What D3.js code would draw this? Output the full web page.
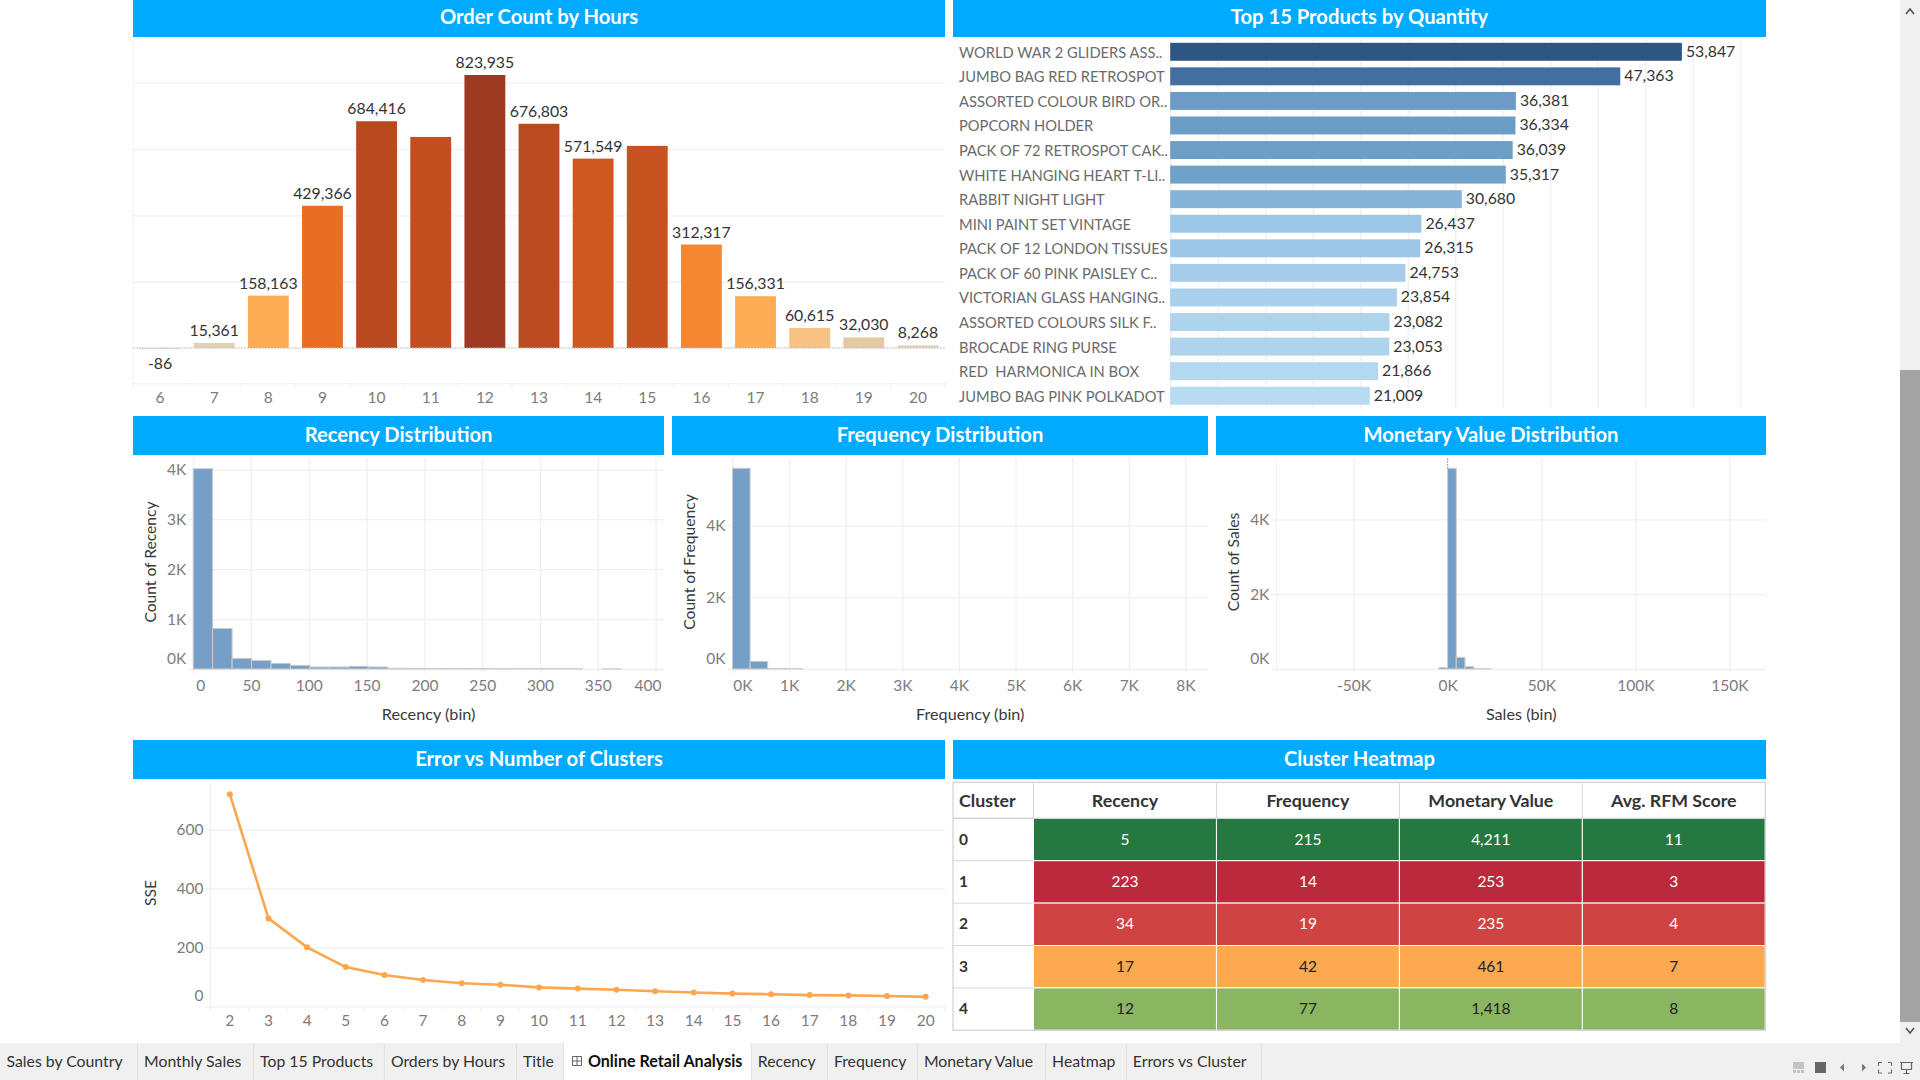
<!DOCTYPE html>
<html>
<head>
    <meta charset="utf-8">
    <title>Online Retail Analysis</title>
    <script src="https://d3js.org/d3.v7.min.js"></script>
    <style>
        body { margin: 0; background: #fff; overflow: hidden; }
        svg { display: block; font-family: Lato, sans-serif; }
        .head { fill: #00aaff; }
        .head-text { fill: #fff; font-size: 20.2px; font-weight: 700; text-anchor: middle; }
        .grid line, .grid path { stroke: #f0f0f0; stroke-width: 1.3px; }
        .grid path { display: none; }
        .axis text { fill: #7c7c7c; font-size: 15.5px; font-family: Lato, sans-serif; }
        .axis path, .axis line { stroke: #eeeeee; }
        .value { fill: #333; font-size: 15.8px; }
        .product { fill: #6b6b6b; font-size: 14.7px; white-space: pre; }
        .axis-title { fill: #3a3a3a; font-size: 16.2px; text-anchor: middle; }
        .axis-title.side { font-size: 15.6px; }
        .hist-bar { fill: #759fc6; stroke: #cccccc; stroke-width: 1px; }
        .cell-text { font-size: 15.5px; text-anchor: middle; }
        .table-head { fill: #333; font-size: 17.8px; font-weight: 700; }
        .row-head { fill: #333; font-size: 15.5px; font-weight: 700; }
        .tab { fill: #333; font-size: 15.8px; }
        .tab.active { fill: #111; font-size: 16.1px; font-weight: 700; }
    </style>
</head>
<body>
    <svg id="page" width="1920" height="1080"></svg>
    <script>
        let hours = [6, 7, 8, 9, 10, 11, 12, 13, 14, 15, 16, 17, 18, 19, 20];
        let orderCounts = [-86, 15361, 158163, 429366, 684416, 637000, 823935, 676803, 571549, 610000, 312317, 156331, 60615, 32030, 8268];
        let hiddenOrderLabels = [11, 15]; // the dashboard drops these two labels

        let products = ['WORLD WAR 2 GLIDERS ASS..', 'JUMBO BAG RED RETROSPOT', 'ASSORTED COLOUR BIRD OR..', 'POPCORN HOLDER',
            'PACK OF 72 RETROSPOT CAK..', 'WHITE HANGING HEART T-LI..', 'RABBIT NIGHT LIGHT', 'MINI PAINT SET VINTAGE',
            'PACK OF 12 LONDON TISSUES', 'PACK OF 60 PINK PAISLEY C..', 'VICTORIAN GLASS HANGING..', 'ASSORTED COLOURS SILK F..',
            'BROCADE RING PURSE', 'RED  HARMONICA IN BOX', 'JUMBO BAG PINK POLKADOT'];
        let quantities = [53847, 47363, 36381, 36334, 36039, 35317, 30680, 26437, 26315, 24753, 23854, 23082, 23053, 21866, 21009];

        let recencyBinSize = 16.83;
        let recencyCounts = [4013, 813, 213, 173, 113, 73, 40, 40, 53, 40, 15, 12, 10, 8, 8, 6, 6, 5, 5, 4, 0, 3];
        let recencyTicks = [0, 50, 100, 150, 200, 250, 300, 350, 400];
        let recencyYTicks = [0, 1000, 2000, 3000, 4000];

        let frequencyBinSize = 311;
        let frequencyCounts = [5587, 213, 12, 6];
        let frequencyTicks = [0, 1000, 2000, 3000, 4000, 5000, 6000, 7000, 8000];
        let frequencyYTicks = [0, 2000, 4000];

        let salesBinSize = 4630;
        let salesBinStart = -4630;
        let salesCounts = [40, 5363, 312, 62, 10, 8];
        let salesTicks = [-50000, 0, 50000, 100000, 150000];
        let salesYTicks = [0, 2000, 4000];

        let clusterCounts = [2, 3, 4, 5, 6, 7, 8, 9, 10, 11, 12, 13, 14, 15, 16, 17, 18, 19, 20];
        let sse = [719, 298, 200, 133, 106, 89, 78, 73, 64, 60, 56, 51, 47, 43, 41, 38, 37, 35, 32];
        let sseTicks = [0, 200, 400, 600];

        let clusters = ['0', '1', '2', '3', '4'];
        let heatColumns = ['Recency', 'Frequency', 'Monetary Value', 'Avg. RFM Score'];
        let recencyRow = [5, 223, 34, 17, 12];
        let frequencyRow = [215, 14, 19, 42, 77];
        let monetaryRow = ['4,211', '253', '235', '461', '1,418'];
        let scoreRow = [11, 3, 4, 7, 8];

        let tabNames = ['Sales by Country', 'Monthly Sales', 'Top 15 Products', 'Orders by Hours', 'Title', 'Online Retail Analysis',
            'Recency', 'Frequency', 'Monetary Value', 'Heatmap', 'Errors vs Cluster'];

        let svg = d3.select('#page');
        // plain hyphen for negatives, like the dashboard
        let fmt = function (d) { return d3.format(',')(d).replace('\u2212', '-'); };
        let kFmt = function (d) { return (d / 1000 + 'K').replace('\u2212', '-'); };

        function header(x0, x1, y0, y1, title, dy) {
            svg.append('rect').attr('class', 'head')
                .attr('x', x0).attr('y', y0).attr('width', x1 - x0).attr('height', y1 - y0);
            svg.append('text').attr('class', 'head-text')
                .attr('x', (x0 + x1) / 2).attr('y', (y0 + y1) / 2 + dy).text(title);
        }

        header(133, 945, 0, 37, 'Order Count by Hours', 5);
        header(953, 1766, 0, 37, 'Top 15 Products by Quantity', 5);
        header(133, 664, 416, 455, 'Recency Distribution', 6);
        header(672, 1208, 416, 455, 'Frequency Distribution', 6);
        header(1216, 1766, 416, 455, 'Monetary Value Distribution', 6);
        header(133, 945, 740, 779, 'Error vs Number of Clusters', 6);
        header(953, 1766, 740, 779, 'Cluster Heatmap', 6);

        // ---- order count by hours
        let ox = d3.scaleBand().domain(hours).range([133, 945]).paddingInner(0.245).paddingOuter(0.1225);
        let oy = d3.scaleLinear().domain([-106500, 823935]).range([383.3, 75]);
        let oColor = d3.scaleLinear()
            .domain([-86, 8268, 32030, 60615, 158163, 312317, 429366, 571549, 684416, 823935])
            .range(['#dddddd', '#e3d4bc', '#e5c9a3', '#f7c384', '#fdae53', '#f58632', '#e86e24', '#cf5720', '#b84a20', '#9e3a21']);

        svg.append('g').attr('class', 'grid')
            .attr('transform', 'translate(133,0)')
            .call(d3.axisLeft(oy).tickValues([200000, 400000, 600000, 800000]).tickSize(-812).tickFormat(''));
        svg.append('line').attr('x1', 133).attr('x2', 133).attr('y1', 40).attr('y2', 383).attr('stroke', '#f3f3f3');

        svg.selectAll('.obar').data(hours).enter().append('rect')
            .attr('class', 'obar')
            .attr('x', function (d) { return ox(d); })
            .attr('width', ox.bandwidth())
            .attr('y', function (d, i) { return Math.min(oy(orderCounts[i]), oy(0)); })
            .attr('height', function (d, i) { return Math.max(Math.abs(oy(orderCounts[i]) - oy(0)), 1); })
            .attr('fill', function (d, i) { return oColor(orderCounts[i]); });

        svg.append('line').attr('x1', 133).attr('x2', 945).attr('y1', oy(0)).attr('y2', oy(0))
            .attr('stroke', '#bdbdbd').attr('stroke-dasharray', '2,1');

        svg.selectAll('.ovalue').data(hours.filter(function (h) { return hiddenOrderLabels.indexOf(h) < 0; })).enter().append('text')
            .attr('class', 'value')
            .attr('text-anchor', 'middle')
            .attr('x', function (d) { return ox(d) + ox.bandwidth() / 2; })
            .attr('y', function (d) {
                let v = orderCounts[hours.indexOf(d)];
                return v < 0 ? oy(0) + 21 : oy(v) - 7;
            })
            .text(function (d) { return fmt(orderCounts[hours.indexOf(d)]); });

        // band axis: text in the band centres, marks on the band edges
        svg.append('g').attr('class', 'axis')
            .attr('transform', 'translate(0,' + oy.range()[0] + ')')
            .call(d3.axisBottom(ox).tickSize(0).tickPadding(9));
        svg.append('g').selectAll('line').data(d3.range(hours.length + 1)).enter().append('line')
            .attr('x1', function (i) { return 133 + i * ox.step(); })
            .attr('x2', function (i) { return 133 + i * ox.step(); })
            .attr('y1', oy.range()[0]).attr('y2', oy.range()[0] + 4)
            .attr('stroke', '#eeeeee');

        // ---- top 15 products
        let px = d3.scaleLinear().domain([0, 62700]).range([1170.2, 1766]);
        let py = d3.scaleBand().domain(products).range([39.5, 408]).paddingInner(0.27).paddingOuter(0.135);
        let pColor = d3.scaleLinear()
            .domain([21009, 23053, 26315, 30680, 36000, 47363, 53847])
            .range(['#b7dcf1', '#aed3ed', '#9cc7e6', '#86b4d9', '#6d9ec6', '#426f9f', '#2c5782']);

        svg.append('g').attr('class', 'grid')
            .attr('transform', 'translate(0,408)')
            .call(d3.axisBottom(px).tickValues(d3.range(0, 60001, 5000)).tickSize(-368).tickFormat(''));

        svg.selectAll('.pbar').data(products).enter().append('rect')
            .attr('x', px(0))
            .attr('y', function (d) { return py(d); })
            .attr('height', py.bandwidth())
            .attr('width', function (d, i) { return px(quantities[i]) - px(0); })
            .attr('fill', function (d, i) { return pColor(quantities[i]); });
        svg.selectAll('.product').data(products).enter().append('text')
            .attr('class', 'product')
            .attr('x', 959)
            .attr('y', function (d) { return py(d) + py.bandwidth() / 2 + 6; })
            .text(function (d) { return d; });
        svg.selectAll('.pvalue').data(products).enter().append('text')
            .attr('class', 'value')
            .attr('x', function (d, i) { return px(quantities[i]) + 4; })
            .attr('y', function (d) { return py(d) + py.bandwidth() / 2 + 5; })
            .text(function (d, i) { return fmt(quantities[i]); });

        // ---- histograms
        function histogram(o) {
            let x = d3.scaleLinear().domain(o.xDomain).range([o.left, o.right]);
            let y = d3.scaleLinear().domain([0, o.yMax]).range([669, o.yTop]);

            svg.append('g').attr('class', 'grid')
                .attr('transform', 'translate(' + o.left + ',0)')
                .call(d3.axisLeft(y).tickValues(o.yTicks).tickSize(-(o.right - o.left)).tickFormat(''))
                .selectAll('line').attr('x1', -5);
            svg.append('g').attr('class', 'grid')
                .attr('transform', 'translate(0,669)')
                .call(d3.axisBottom(x).tickValues(o.xTicks).tickSize(-211).tickFormat(''))
                .selectAll('line').attr('y1', 4);
            svg.append('line').attr('x1', o.left).attr('x2', o.left).attr('y1', 458).attr('y2', 673).attr('stroke', '#f0f0f0');

            // bins go by index, a bin with no count draws nothing
            svg.append('g').selectAll('rect').data(d3.range(o.counts.length).filter(function (i) { return o.counts[i] > 0; }))
                .enter().append('rect')
                .attr('class', 'hist-bar')
                .attr('x', function (i) { return x(o.start + i * o.bin); })
                .attr('width', x(o.bin) - x(0))
                .attr('y', function (i) { return y(o.counts[i]); })
                .attr('height', function (i) { return y(0) - y(o.counts[i]); });

            let xa = svg.append('g').attr('class', 'axis')
                .attr('transform', 'translate(0,669)')
                .call(d3.axisBottom(x).tickValues(o.xTicks).tickSize(0).tickPadding(11).tickFormat(o.xFormat));
            xa.select('path').remove();
            xa.selectAll('text').attr('dx', function (d) { return o.xShift && o.xShift[d] ? o.xShift[d] : 0; });

            let ya = svg.append('g').attr('class', 'axis')
                .attr('transform', 'translate(' + o.left + ',0)')
                .call(d3.axisLeft(y).tickValues(o.yTicks).tickSize(0).tickPadding(7).tickFormat(kFmt));
            ya.select('path').remove();
            ya.selectAll('text').filter(function (d) { return d === 0; }).attr('dy', '-0.35em');

            svg.append('text').attr('class', 'axis-title')
                .attr('x', (o.left + o.right) / 2).attr('y', 720).text(o.xTitle);
            svg.append('text').attr('class', 'axis-title side')
                .attr('transform', 'translate(' + o.titleX + ',562) rotate(-90)').text(o.yTitle);
            return x;
        }

        histogram({
            left: 193.2, right: 664, xDomain: [0, 407.3], start: 0, bin: recencyBinSize, counts: recencyCounts,
            yMax: 4000, yTop: 469.3, xTicks: recencyTicks, yTicks: recencyYTicks, xFormat: d3.format('d'),
            xShift: { 0: 7, 400: -8 }, xTitle: 'Recency (bin)', yTitle: 'Count of Recency', titleX: 156
        });
        histogram({
            left: 732.5, right: 1208, xDomain: [0, 8400], start: 0, bin: frequencyBinSize, counts: frequencyCounts,
            yMax: 4000, yTop: 525.3, xTicks: frequencyTicks, yTicks: frequencyYTicks, xFormat: kFmt,
            xShift: { 0: 10 }, xTitle: 'Frequency (bin)', yTitle: 'Count of Frequency', titleX: 695
        });
        let sx = histogram({
            left: 1276.4, right: 1766, xDomain: [-91100, 169500], start: salesBinStart, bin: salesBinSize, counts: salesCounts,
            yMax: 4000, yTop: 519.3, xTicks: salesTicks, yTicks: salesYTicks, xFormat: kFmt,
            xTitle: 'Sales (bin)', yTitle: 'Count of Sales', titleX: 1239
        });
        svg.append('line').attr('x1', sx(0)).attr('x2', sx(0)).attr('y1', 458).attr('y2', 469)
            .attr('stroke', '#aaaaaa').attr('stroke-dasharray', '2,1');

        // ---- error vs clusters
        let ex = d3.scaleBand().domain(clusterCounts).range([210.5, 945]);
        let ey = d3.scaleLinear().domain([0, 600]).range([1006.3, 829.3]);
        let ecx = function (d) { return ex(d) + ex.bandwidth() / 2; };

        svg.append('g').attr('class', 'grid')
            .attr('transform', 'translate(210.5,0)')
            .call(d3.axisLeft(ey).tickValues(sseTicks).tickSize(-734.5).tickFormat(''))
            .selectAll('line').attr('x1', -5);
        svg.append('line').attr('x1', 210.5).attr('x2', 210.5).attr('y1', 782).attr('y2', 1010).attr('stroke', '#f0f0f0');
        svg.append('g').selectAll('line').data(d3.range(clusterCounts.length + 1)).enter().append('line')
            .attr('x1', function (i) { return 210.5 + i * ex.step(); })
            .attr('x2', function (i) { return 210.5 + i * ex.step(); })
            .attr('y1', 1006.3).attr('y2', 1010.3).attr('stroke', '#eeeeee');

        let eLine = d3.line()
            .x(function (d) { return ecx(d); })
            .y(function (d, i) { return ey(sse[i]); });
        svg.append('path').datum(clusterCounts)
            .attr('d', eLine).attr('fill', 'none').attr('stroke', '#fca750').attr('stroke-width', 2.6);
        svg.selectAll('.ept').data(clusterCounts).enter().append('circle')
            .attr('cx', function (d) { return ecx(d); })
            .attr('cy', function (d, i) { return ey(sse[i]); })
            .attr('r', 3).attr('fill', '#fca750');

        let exa = svg.append('g').attr('class', 'axis')
            .attr('transform', 'translate(0,1006.3)')
            .call(d3.axisBottom(ex).tickSize(0).tickPadding(9));
        exa.select('path').remove();
        let eya = svg.append('g').attr('class', 'axis')
            .attr('transform', 'translate(210.5,0)')
            .call(d3.axisLeft(ey).tickValues(sseTicks).tickSize(0).tickPadding(7));
        eya.select('path').remove();
        eya.selectAll('text').filter(function (d) { return d === 0; }).attr('dy', '-0.35em');
        svg.append('text').attr('class', 'axis-title side').attr('transform', 'translate(156,893) rotate(-90)').text('SSE');

        // ---- heatmap table
        let hx = d3.scaleBand().domain(heatColumns).range([1033.5, 1765.3]);
        let hy = d3.scaleBand().domain(clusters).range([818.3, 1030.3]);
        let hColor = d3.scaleOrdinal().domain(clusters).range(['#247840', '#bb2a3c', '#cf4343', '#fca950', '#8ab661']);
        let hText = d3.scaleOrdinal().domain(clusters).range(['#ffffff', '#ffffff', '#ffffff', '#222222', '#222222']);
        let heatRows = [recencyRow, frequencyRow, monetaryRow, scoreRow];

        heatColumns.forEach(function (col, c) {
            svg.append('g').selectAll('rect').data(clusters).enter().append('rect')
                .attr('x', hx(col)).attr('width', hx.bandwidth())
                .attr('y', function (d) { return hy(d); }).attr('height', hy.bandwidth())
                .attr('fill', function (d) { return hColor(d); })
                .attr('stroke', '#ffffff').attr('stroke-width', 1);
            svg.append('g').selectAll('text').data(clusters).enter().append('text')
                .attr('class', 'cell-text')
                .attr('x', hx(col) + hx.bandwidth() / 2)
                .attr('y', function (d) { return hy(d) + hy.bandwidth() / 2 + 5; })
                .attr('fill', function (d) { return hText(d); })
                .text(function (d, i) { return heatRows[c][i]; });
            svg.append('text').attr('class', 'table-head').attr('text-anchor', 'middle')
                .attr('x', hx(col) + hx.bandwidth() / 2).attr('y', 807).text(col);
            svg.append('line').attr('x1', hx(col)).attr('x2', hx(col)).attr('y1', 782.3).attr('y2', 818.3).attr('stroke', '#d8d8d8');
        });
        svg.append('text').attr('class', 'table-head').attr('x', 959).attr('y', 807).text('Cluster');
        svg.append('g').selectAll('text').data(clusters).enter().append('text')
            .attr('class', 'row-head')
            .attr('x', 959)
            .attr('y', function (d) { return hy(d) + hy.bandwidth() / 2 + 5; })
            .text(function (d) { return d; });
        svg.append('g').selectAll('line').data(clusters).enter().append('line')
            .attr('x1', 953).attr('x2', 1033.5)
            .attr('y1', function (d) { return hy(d); }).attr('y2', function (d) { return hy(d); })
            .attr('stroke', '#d8d8d8');
        svg.append('rect').attr('x', 953).attr('y', 782.3).attr('width', 812.3).attr('height', 248)
            .attr('fill', 'none').attr('stroke', '#d4d4d4').attr('stroke-width', 1.3);
        svg.append('line').attr('x1', 953).attr('x2', 1765.3).attr('y1', 818.3).attr('y2', 818.3).attr('stroke', '#d4d4d4').attr('stroke-width', 1.3);

        // ---- scrollbar
        svg.append('rect').attr('x', 1900).attr('y', 0).attr('width', 20).attr('height', 1043).attr('fill', '#f0f0f0');
        svg.append('rect').attr('x', 1900).attr('y', 370).attr('width', 20).attr('height', 652).attr('fill', '#a3a3a3');
        svg.append('path').attr('d', 'M1906 14 L1910 9 L1914 14').attr('fill', 'none').attr('stroke', '#505050').attr('stroke-width', 1.6);
        svg.append('path').attr('d', 'M1906 1028 L1910 1033 L1914 1028').attr('fill', 'none').attr('stroke', '#505050').attr('stroke-width', 1.6);

        // ---- tab bar
        let tabEdges = [0, 137.5, 253.6, 384.4, 516.5, 563.4, 751.3, 827.4, 917.4, 1045.6, 1126.3, 1261.4];
        let activeTab = 5;
        svg.append('rect').attr('x', 0).attr('y', 1043).attr('width', 1920).attr('height', 37).attr('fill', '#f0f0f0');
        svg.append('rect').attr('x', tabEdges[activeTab]).attr('y', 1043)
            .attr('width', tabEdges[activeTab + 1] - tabEdges[activeTab]).attr('height', 37).attr('fill', '#fff');
        svg.append('g').selectAll('line').data(tabEdges.slice(1)).enter().append('line')
            .attr('x1', function (d) { return d; }).attr('x2', function (d) { return d; })
            .attr('y1', 1043).attr('y2', 1080).attr('stroke', '#e0e0e0');
        svg.append('g').selectAll('text').data(tabNames).enter().append('text')
            .attr('class', function (d, i) { return i === activeTab ? 'tab active' : 'tab'; })
            .attr('x', function (d, i) { return i === activeTab ? tabEdges[i] + 24.5 : tabEdges[i] + 6.5; })
            .attr('y', 1067)
            .text(function (d) { return d; });
        // little table icon of the active tab
        svg.append('path').attr('d', 'M572.5 1056.5h9v9h-9z M577 1056.5v9 M572.5 1061h9')
            .attr('fill', 'none').attr('stroke', '#555').attr('stroke-width', 0.9);

        // ---- window controls, bottom right
        svg.append('rect').attr('x', 1793).attr('y', 1062).attr('width', 11).attr('height', 7).attr('fill', '#c4c4c4');
        svg.append('g').selectAll('rect').data([1793, 1797, 1801]).enter().append('rect')
            .attr('x', function (d) { return d; }).attr('y', 1070).attr('width', 3).attr('height', 3).attr('fill', '#c4c4c4');
        svg.append('rect').attr('x', 1815).attr('y', 1062).attr('width', 11).attr('height', 11).attr('fill', '#666');
        svg.append('path').attr('d', 'M1844 1063.5 L1840 1067.5 L1844 1071.5 Z').attr('fill', '#777');
        svg.append('path').attr('d', 'M1862 1063.5 L1866 1067.5 L1862 1071.5 Z').attr('fill', '#777');
        svg.append('path').attr('d', 'M1878.5 1066 v-3.5 h3.5 M1888 1062.5 h3.5 v3.5 M1891.5 1069.5 v3.5 h-3.5 M1882 1073 h-3.5 v-3.5')
            .attr('fill', 'none').attr('stroke', '#666').attr('stroke-width', 1);
        svg.append('path').attr('d', 'M1900 1062.5 h13 M1901.5 1062.5 v7 h10 v-7 M1906.5 1069.5 v4 M1903.5 1073.5 h6')
            .attr('fill', 'none').attr('stroke', '#666').attr('stroke-width', 1.2);
    </script>
</body>
</html>
